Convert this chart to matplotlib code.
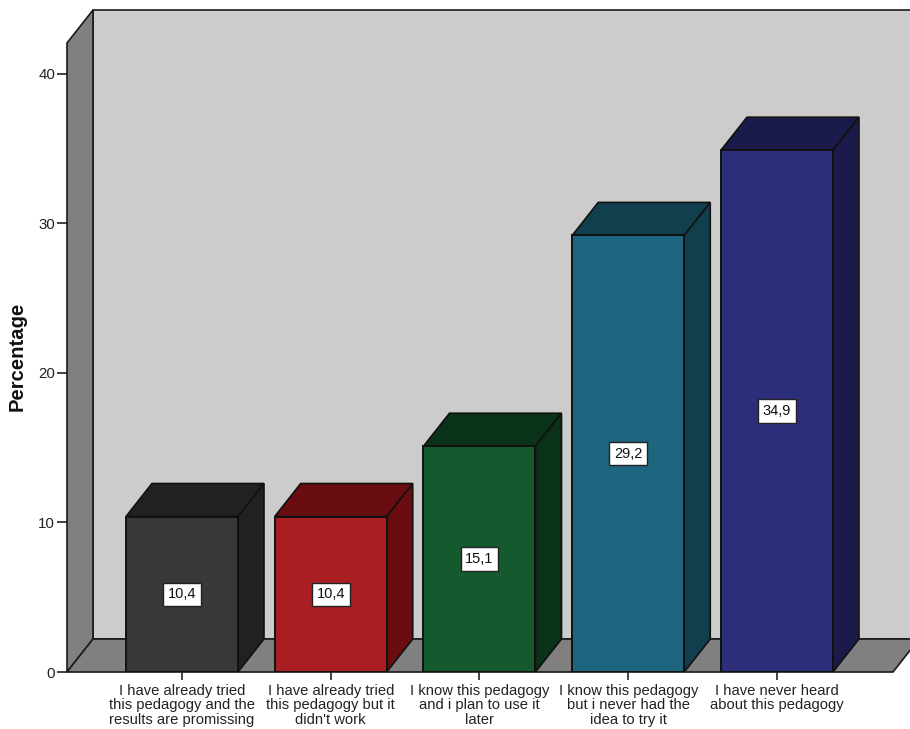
import matplotlib
matplotlib.use("Agg")
import matplotlib.pyplot as plt
from matplotlib.patches import Polygon

plt.rcParams['font.family'] = ['Liberation Sans', 'DejaVu Sans']

categories = [
    "I have already tried\nthis pedagogy and the\nresults are promissing",
    "I have already tried\nthis pedagogy but it\ndidn't work",
    "I know this pedagogy\nand i plan to use it\nlater",
    "I know this pedagogy\nbut i never had the\nidea to try it",
    "I have never heard\nabout this pedagogy",
]
percentages = [10.4, 10.4, 15.1, 29.2, 34.9]
y_ticks = [0, 10, 20, 30, 40]

front_colors = ["#383838", "#A91E22", "#15592E", "#1E657F", "#2C2E79"]
shade_colors = ["#212121", "#690D11", "#0A3219", "#123F4E", "#1A1B4A"]

W, H = 910, 729
fig = plt.figure(figsize=(W / 100, H / 100), dpi=100)
# axes box is the front plane of the 3D frame
ax = fig.add_axes([67 / W, (H - 672) / H, (893 - 67) / W, (672 - 43) / H])

x_min, x_max = -0.773, 4.78
y_max = 42.07
ax.set_xlim(x_min, x_max)
ax.set_ylim(0, y_max)
ax.patch.set_visible(False)

# depth offset of the extrusion, in data units
dx = 26 / 148.75
dy = 33 / 14.95
bar_w = 0.753
edge = "#1a1a1a"


def face(points, color, z, lw=1.2, ec=edge):
    p = Polygon(points, closed=True, facecolor=color, edgecolor=ec, linewidth=lw,
                joinstyle="miter", zorder=z, clip_on=False)
    ax.add_patch(p)


# back wall, left wall, floor
right_edge = x_max + dx
face([(x_min + dx, dy), (right_edge, dy), (right_edge, y_max + dy), (x_min + dx, y_max + dy)],
     "#CCCCCC", 1)
face([(x_min, 0), (x_min + dx, dy), (x_min + dx, y_max + dy), (x_min, y_max)], "#808080", 2)
face([(x_min, 0), (x_max, 0), (x_max + dx, dy), (x_min + dx, dy)], "#808080", 2)

xs = list(range(len(percentages)))
for x, v, front, shade in zip(xs, percentages, front_colors, shade_colors):
    l = x - bar_w / 2
    r = x + bar_w / 2
    # top and side of the box, then the front face
    face([(l, v), (r, v), (r + dx, v + dy), (l + dx, v + dy)], shade, 3, ec="#111111")
    face([(r, 0), (r + dx, dy), (r + dx, v + dy), (r, v)], shade, 3, ec="#111111")
    ax.bar(x, v, width=bar_w, color=front, edgecolor="#111111", linewidth=1.4, zorder=4)
    ax.text(x, v / 2, f"{v:.1f}".replace(".", ","), ha="center", va="center", fontsize=10.5,
            color="#111111", zorder=5,
            bbox=dict(boxstyle="square,pad=0.32", facecolor="white", edgecolor="#222222", linewidth=1))

ax.set_xticks(xs)
ax.set_xticklabels(categories, fontsize=10.6, color="#222222", linespacing=1.06)
ax.set_yticks(y_ticks)
ax.set_yticklabels([str(t) for t in y_ticks], fontsize=10.8, color="#222222")
ax.tick_params(axis="x", length=6, width=1.2, color="#222222", pad=2.5)
ax.tick_params(axis="y", length=7, width=1.2, color="#222222", pad=1.5)
for spine in ax.spines.values():
    spine.set_visible(False)

fig.text(17 / W, 1 - 356 / H, "Percentage", rotation=90, ha="center", va="center",
         fontsize=14.6, fontweight="bold", color="#111111")

fig.savefig("out.png", dpi=100, facecolor="white")
